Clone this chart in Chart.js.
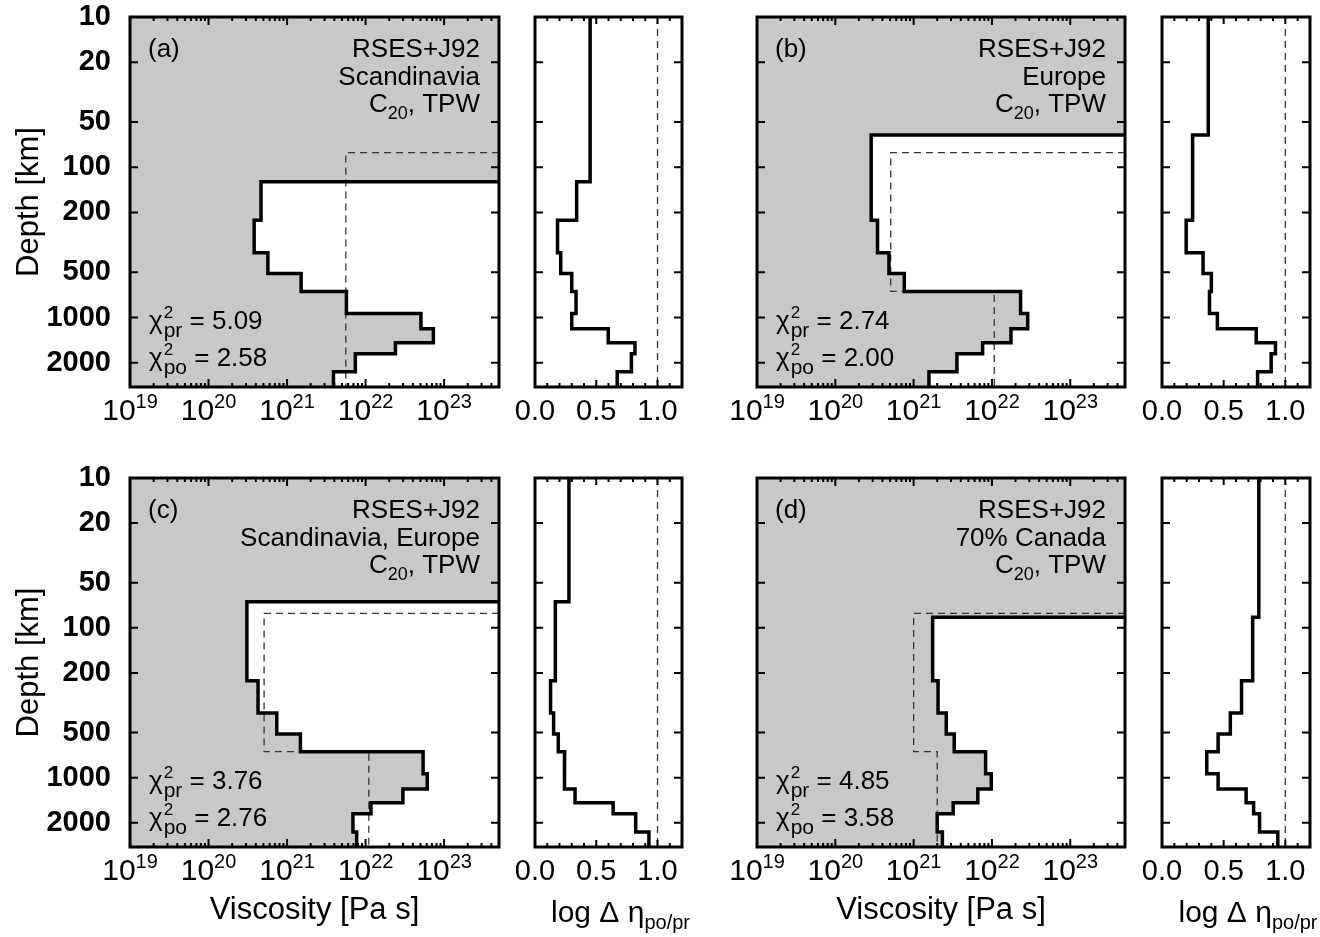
<!DOCTYPE html>
<html>
<head>
<meta charset="utf-8">
<script src="https://cdn.jsdelivr.net/npm/chart.js@4.4.1/dist/chart.umd.min.js"></script>
<style>
  body { margin: 0; background: #fff; width: 1320px; height: 937px; overflow: hidden; position: relative; }
  canvas { position: absolute; }
</style>
</head>
<body>
<script>
// Viscosity inversions (prior vs posterior) with resolution panels, 2x2 layout.
const FAMILY = "'Liberation Sans', Arial, Helvetica, sans-serif";
Chart.defaults.font.family = FAMILY;
Chart.defaults.color = "#000";

// depth [km] of the base of each sub-lithospheric layer
const layerBase = [225, 370, 510, 670, 940, 1190, 1470, 1740, 2300, 2900];
const depthTicks = [10, 20, 50, 100, 200, 500, 1000, 2000];
const depthRange = [10, 2900];
const viscDecades = [19, 20, 21, 22, 23];
const viscRange = [1e19, 5e23];
const deltaTicks = [0, 0.5, 1.0];
const deltaRange = [0, 1.2];
const deltaRef = 1.0;
const priorLith = 80;
const priorUpperBase = 670;

// (a) Scandinavia
const lithA = 125;
const viscA = [4.66e20, 3.81e20, 5.7e20, 1.51e21, 5.7e21, 5.07e22, 7.3e22, 2.4e22, 7.4e21, 3.9e21];
const deltaA = [0.45, 0.34, 0.184, 0.21, 0.30, 0.335, 0.30, 0.598, 0.816, 0.787, 0.671];
const priorA = [5.6e21, 5.6e21];
const chiA = ["5.09", "2.58"];

// (b) Europe
const lithB = 61;
const viscB = [2.87e20, 3.46e20, 4.84e20, 7.6e20, 2.32e22, 2.86e22, 1.75e22, 7.6e21, 3.57e21, 1.57e21];
const deltaB = [0.375, 0.248, 0.196, 0.333, 0.40, 0.385, 0.449, 0.764, 0.92, 0.885, 0.775];
const priorB = [5.1e20, 1.07e22];
const chiB = ["2.74", "2.00"];

// (c) Scandinavia, Europe
const lithC = 67;
const viscC = [3.08e20, 4.27e20, 7.4e20, 1.48e21, 5.4e22, 6.1e22, 2.99e22, 1.17e22, 6.9e21, 7.7e21];
const deltaC = [0.277, 0.166, 0.127, 0.152, 0.19, 0.242, 0.24, 0.327, 0.638, 0.822, 0.93];
const priorC = [5.1e20, 1.1e22];
const chiC = ["3.76", "2.76"];

// (d) 70% Canada
const lithD = 85;
const viscD = [1.75e21, 2.05e21, 2.61e21, 3.3e21, 8.3e21, 9.8e21, 6.6e21, 3.2e21, 2.0e21, 2.33e21];
const deltaD = [0.785, 0.735, 0.645, 0.554, 0.455, 0.363, 0.455, 0.682, 0.743, 0.791, 0.939];
const priorD = [1e21, 2e21];
const chiD = ["4.85", "3.58"];

const panels = [
  { tag: "(a)", region: "Scandinavia", lith: lithA, visc: viscA, delta: deltaA, prior: priorA, chi: chiA, col: 0, row: 0 },
  { tag: "(b)", region: "Europe", lith: lithB, visc: viscB, delta: deltaB, prior: priorB, chi: chiB, col: 1, row: 0 },
  { tag: "(c)", region: "Scandinavia, Europe", lith: lithC, visc: viscC, delta: deltaC, prior: priorC, chi: chiC, col: 0, row: 1 },
  { tag: "(d)", region: "70% Canada", lith: lithD, visc: viscD, delta: deltaD, prior: priorD, chi: chiD, col: 1, row: 1 },
];

// page layout: canvas boxes and plot areas
const cols = [
  { vx: 0, vw: 515, vl: 130, vr: 499, nx: 515, nw: 185, nl: 535, nr: 682 },
  { vx: 700, vw: 440, vl: 757, vr: 1125, nx: 1140, nw: 180, nl: 1162, nr: 1310 },
];
const rows = [
  { y: 0, h: 455, t: 17, b: 387 },
  { y: 455, h: 482, t: 478, b: 847 },
];

const viscMarks = [];
viscDecades.forEach((n) => {
  for (let k = 1; k <= 9; k++) viscMarks.push([k * 10 ** n, k === 1 ? 8 : 4]);
});
const deltaMarks = [];
for (let i = 1; i <= 11; i++) deltaMarks.push([i / 10, i % 5 === 0 ? 7 : 4]);

function font(size) {
  return `${size}px ${FAMILY}`;
}

// runs: [text, size, dy]
function drawRuns(ctx, runs, x, y, align) {
  let total = 0;
  const widths = runs.map(([t, s]) => {
    ctx.font = font(s);
    const w = ctx.measureText(t).width;
    total += w;
    return w;
  });
  let cx = align === "right" ? x - total : align === "center" ? x - total / 2 : x;
  runs.forEach(([t, s, dy], i) => {
    ctx.font = font(s);
    ctx.fillText(t, cx, y + dy);
    cx += widths[i];
  });
}

function drawChi(ctx, sub, value, x, y) {
  ctx.font = font(26);
  ctx.fillText("χ", x, y);
  let cx = x + ctx.measureText("χ").width + 1;
  ctx.font = font(17);
  ctx.fillText("2", cx, y - 11);
  ctx.font = font(21);
  ctx.fillText(sub, cx, y + 8);
  cx += ctx.measureText(sub).width;
  ctx.font = font(26);
  ctx.fillText(" = " + value, cx, y);
}

const panelPlugin = {
  id: "panel",
  afterDraw(chart, args, o) {
    const { ctx, chartArea: a } = chart;
    const xs = chart.scales.x;
    const ys = chart.scales.y;
    ctx.save();
    ctx.strokeStyle = "#000";
    ctx.lineWidth = 2;
    ctx.beginPath();
    for (const d of depthTicks) {
      const py = ys.getPixelForValue(d);
      ctx.moveTo(a.left, py);
      ctx.lineTo(a.left + 8, py);
      ctx.moveTo(a.right, py);
      ctx.lineTo(a.right - 8, py);
    }
    for (const [v, len] of o.marks) {
      if (v <= xs.min || v >= xs.max) continue;
      const px = xs.getPixelForValue(v);
      ctx.moveTo(px, a.bottom);
      ctx.lineTo(px, a.bottom - len);
      ctx.moveTo(px, a.top);
      ctx.lineTo(px, a.top + len);
    }
    ctx.stroke();
    ctx.lineWidth = 3;
    ctx.strokeRect(a.left, a.top, a.right - a.left, a.bottom - a.top);

    ctx.fillStyle = "#000";
    ctx.textBaseline = "alphabetic";
    ctx.textAlign = "left";
    if (o.kind === "visc") {
      for (const n of viscDecades) {
        const px = xs.getPixelForValue(10 ** n);
        drawRuns(ctx, [["10", 30, 0], [String(n), 20, -12]], px, a.bottom + 33, "center");
      }
      const p = o.panel;
      ctx.font = font(26);
      ctx.fillText(p.tag, a.left + 18, a.top + 40);
      drawRuns(ctx, [["RSES+J92", 26, 0]], a.right - 19, a.top + 40, "right");
      drawRuns(ctx, [[p.region, 26, 0]], a.right - 19, a.top + 68, "right");
      drawRuns(ctx, [["C", 26, 0], ["20", 18, 7], [", TPW", 26, 0]], a.right - 19, a.top + 95, "right");
      drawChi(ctx, "pr", p.chi[0], a.left + 19, a.bottom - 58);
      drawChi(ctx, "po", p.chi[1], a.left + 19, a.bottom - 21);
    } else if (o.xTitle) {
      drawRuns(ctx, [["log Δ η", 30, 0], ["po/pr", 20, 7]], (a.left + a.right) / 2 + 12, a.bottom + 75, "center");
    }
    ctx.restore();
  },
};

function addCanvas(x, y, w, h) {
  const c = document.createElement("canvas");
  c.width = w;
  c.height = h;
  Object.assign(c.style, { left: x + "px", top: y + "px", width: w + "px", height: h + "px" });
  document.body.appendChild(c);
  return c;
}

function depthScale(withLabels, localLeft) {
  return {
    type: "logarithmic",
    reverse: true,
    min: depthRange[0],
    max: depthRange[1],
    bounds: "data",
    grid: { display: false, drawTicks: false },
    border: { display: false },
    afterBuildTicks: (s) => {
      s.ticks = depthTicks.map((v) => ({ value: v }));
    },
    afterFit: (s) => {
      s.width = localLeft;
      s.paddingTop = 0;
      s.paddingBottom = 0;
    },
    ticks: { display: withLabels, autoSkip: false, padding: 19, font: { size: 29, weight: "bold" }, callback: (v) => String(v) },
    title: { display: withLabels, text: "Depth [km]", font: { size: 31 }, padding: { top: 11 } },
  };
}

function buildChart(box, area, datasets, xScale, yScale, pluginOpts) {
  const canvas = addCanvas(box.x, box.y, box.w, box.h);
  const t = area.t - box.y;
  const r = area.r - box.x;
  const b = area.b - box.y;
  xScale.afterFit = (s) => {
    s.height = box.h - b;
    s.paddingLeft = 0;
    s.paddingRight = 0;
  };
  return new Chart(canvas, {
    type: "scatter",
    data: { datasets },
    options: {
      responsive: false,
      animation: false,
      devicePixelRatio: 1,
      layout: { padding: { left: 0, top: t, right: box.w - r, bottom: 0 } },
      elements: { point: { radius: 0 }, line: { tension: 0 } },
      plugins: { legend: { display: false }, tooltip: { enabled: false }, panel: pluginOpts },
      scales: { x: xScale, y: yScale },
    },
    plugins: [panelPlugin],
  });
}

const steps = (tops, vals) => vals.flatMap((v, i) => [{ x: v, y: tops[i] }, { x: v, y: tops[i + 1] }]);

panels.forEach((p) => {
  const c = cols[p.col];
  const rw = rows[p.row];
  const bottomRow = p.row === 1;
  const leftCol = p.col === 0;

  // viscosity profile
  const prof = [{ x: viscRange[1], y: p.lith }, ...steps([p.lith, ...layerBase], p.visc)];
  const shade = [
    { x: viscRange[0], y: depthRange[0] },
    { x: viscRange[1], y: depthRange[0] },
    ...prof,
    { x: viscRange[0], y: depthRange[1] },
  ];
  const prior = [
    { x: viscRange[1], y: priorLith },
    { x: p.prior[0], y: priorLith },
    { x: p.prior[0], y: priorUpperBase },
    { x: p.prior[1], y: priorUpperBase },
    { x: p.prior[1], y: depthRange[1] },
  ];
  buildChart(
    { x: c.vx, y: rw.y, w: c.vw, h: rw.h },
    { l: c.vl, r: c.vr, t: rw.t, b: rw.b },
    [
      { data: prof, showLine: true, borderColor: "#000", borderWidth: 3.5, borderJoinStyle: "miter", fill: false, pointRadius: 0, order: 0 },
      { data: prior, showLine: true, borderColor: "#333", borderWidth: 1.3, borderDash: [7, 5], fill: false, pointRadius: 0, order: 1 },
      { data: shade, showLine: true, borderWidth: 0, borderColor: "rgba(0,0,0,0)", backgroundColor: "#c8c8c8", fill: "shape", pointRadius: 0, order: 2 },
    ],
    {
      type: "logarithmic",
      min: viscRange[0],
      max: viscRange[1],
      bounds: "data",
      grid: { display: false, drawTicks: false },
      border: { display: false },
      ticks: { display: false },
      title: { display: bottomRow, text: "Viscosity [Pa s]", font: { size: 31 }, padding: { bottom: 8 } },
    },
    depthScale(leftCol, c.vl - c.vx),
    { kind: "visc", marks: viscMarks, panel: p }
  );

  // resolution panel
  const dprof = steps([depthRange[0], p.lith, ...layerBase], p.delta);
  const ref = [{ x: deltaRef, y: depthRange[0] }, { x: deltaRef, y: depthRange[1] }];
  buildChart(
    { x: c.nx, y: rw.y, w: c.nw, h: rw.h },
    { l: c.nl, r: c.nr, t: rw.t, b: rw.b },
    [
      { data: dprof, showLine: true, borderColor: "#000", borderWidth: 3.5, borderJoinStyle: "miter", fill: false, pointRadius: 0, order: 0 },
      { data: ref, showLine: true, borderColor: "#333", borderWidth: 1.3, borderDash: [7, 5], fill: false, pointRadius: 0, order: 1 },
    ],
    {
      type: "linear",
      min: deltaRange[0],
      max: deltaRange[1],
      bounds: "data",
      grid: { display: false, drawTicks: false },
      border: { display: false },
      afterBuildTicks: (s) => {
        s.ticks = deltaTicks.map((v) => ({ value: v }));
      },
      ticks: { autoSkip: false, maxRotation: 0, padding: 8, font: { size: 29 }, callback: (v) => Number(v).toFixed(1) },
    },
    depthScale(false, c.nl - c.nx),
    { kind: "delta", marks: deltaMarks, xTitle: bottomRow }
  );
});
</script>
</body>
</html>
